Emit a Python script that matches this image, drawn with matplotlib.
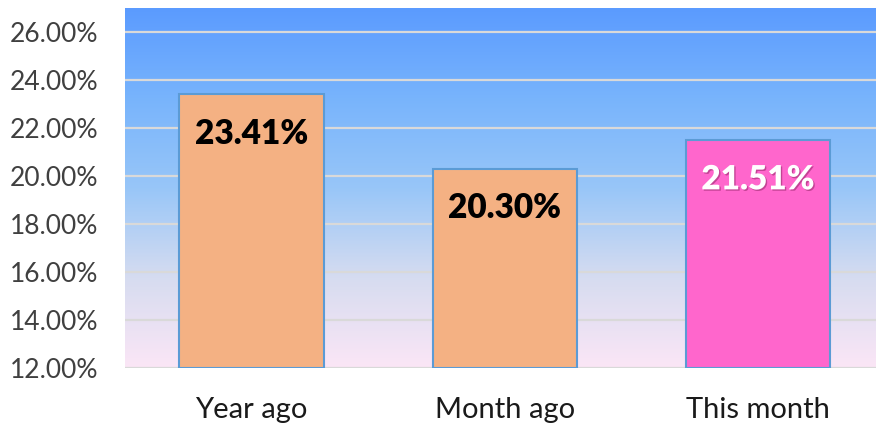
import numpy as np
import matplotlib.pyplot as plt
import matplotlib.patheffects as pe
from matplotlib.colors import LinearSegmentedColormap

categories = ['Year ago', 'Month ago', 'This month']
values = [23.41, 20.30, 21.51]
bar_colors = ['#F4B183', '#F4B183', '#FF66CC']
label_colors = ['black', 'black', 'white']
yticks = [12, 14, 16, 18, 20, 22, 24, 26]

plt.rcParams['font.family'] = ['Lato', 'DejaVu Sans']

fig = plt.figure(figsize=(8.76, 4.24), dpi=100)
ax = fig.add_axes([125 / 876, 56 / 424, 751 / 876, 360 / 424])

# background gradient (blue at top fading to pale pink)
bg = LinearSegmentedColormap.from_list(
    'bg', [(0.0, '#FBE6F6'), (0.25, '#D6DCF0'), (0.5, '#98C6F8'),
           (0.75, '#78B4FC'), (1.0, '#5B9BFF')])
grad = np.linspace(0, 1, 256).reshape(-1, 1)
ax.imshow(grad, cmap=bg, aspect='auto', origin='lower',
          extent=[0, 1, 0, 1], transform=ax.transAxes, zorder=0)

ax.set_ylim(12, 27)
ax.set_xlim(-0.5, 2.5 - 8.5 / 253)
for y in yticks:
    ax.axhline(y, color='#D9D9D9', lw=1.6, zorder=1)

x = np.arange(len(categories))
bars = ax.bar(x, [v - 12 for v in values], bottom=12, width=0.57,
              color=bar_colors, edgecolor='#5B9BD5', linewidth=1.5, zorder=2)

for xi, v, c in zip(x, values, label_colors):
    t = ax.text(xi, v - 1.65, f'{v:.2f}%', ha='center', va='center',
                fontsize=24, fontweight='heavy', color=c, zorder=3)
    if c == 'white':
        t.set_path_effects([pe.withSimplePatchShadow(offset=(1, -1),
                                                     shadow_rgbFace='#8A2060',
                                                     alpha=0.5)])

ax.set_yticks(yticks)
ax.set_yticklabels([f'{y:.2f}%' for y in yticks], fontsize=19, color='#404040')
ax.set_xticks(x)
ax.set_xticklabels(categories, fontsize=21, color='#1a1a1a')
ax.tick_params(length=0)
ax.tick_params(axis='y', pad=19)
ax.tick_params(axis='x', pad=21)
for s in ax.spines.values():
    s.set_visible(False)

fig.savefig('out.png', dpi=100)
